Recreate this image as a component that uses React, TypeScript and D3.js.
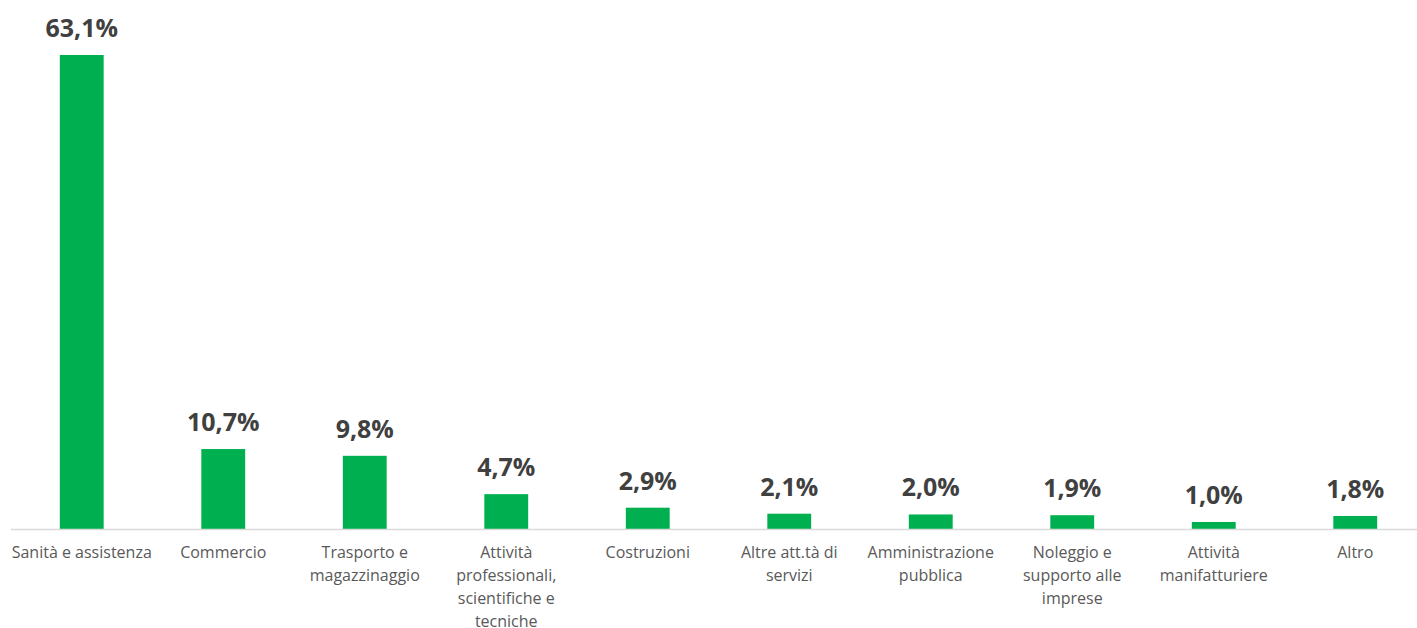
import React from "react";
import * as d3 from "d3";

const categories: string[][] = [
  ["Sanità e assistenza"],
  ["Commercio"],
  ["Trasporto e", "magazzinaggio"],
  ["Attività", "professionali,", "scientifiche e", "tecniche"],
  ["Costruzioni"],
  ["Altre att.tà  di", "servizi"],
  ["Amministrazione", "pubblica"],
  ["Noleggio e", "supporto alle", "imprese"],
  ["Attività", "manifatturiere"],
  ["Altro"],
];
const values: number[] = [63.1, 10.7, 9.8, 4.7, 2.9, 2.1, 2.0, 1.9, 1.0, 1.8];

const W = 1417;
const H = 628;
const left = 11;
const right = 1426;
const baseline = 529.5;
const top = 55;

export default function App() {
  const ids = categories.map((_, i) => String(i));
  const x = d3.scaleBand<string>().domain(ids).range([left, right]).paddingInner(0.69).paddingOuter(0.345);
  const y = d3.scaleLinear().domain([0, 63.1]).range([baseline, top]);
  const fmt = (v: number) => v.toFixed(1).replace(".", ",") + "%";
  return (
    <svg width={W} height={H} style={{ position: "absolute", left: 0, top: 0, background: "#fff" }}>
      {values.map((v, i) => (
        <rect key={i} x={x(String(i))} y={y(v)} width={x.bandwidth()} height={baseline - y(v)} fill="#00B050" />
      ))}
      <line x1={left} x2={W} y1={baseline} y2={baseline} stroke="#D9D9D9" strokeWidth={1.5} />
      {values.map((v, i) => (
        <text
          key={"v" + i}
          x={x(String(i))! + x.bandwidth() / 2}
          y={y(v) - 18}
          textAnchor="middle"
          fontFamily="'Open Sans', sans-serif"
          fontWeight="bold"
          fontSize={25}
          fill="#404040"
        >
          {fmt(v)}
        </text>
      ))}
      {categories.map((lines, i) => (
        <text
          key={"c" + i}
          x={x(String(i))! + x.bandwidth() / 2}
          textAnchor="middle"
          fontFamily="'Open Sans', sans-serif"
          fontSize={16}
          fill="#595959"
        >
          {lines.map((l, j) => (
            <tspan key={j} x={x(String(i))! + x.bandwidth() / 2} y={558 + j * 23}>
              {l}
            </tspan>
          ))}
        </text>
      ))}
    </svg>
  );
}
